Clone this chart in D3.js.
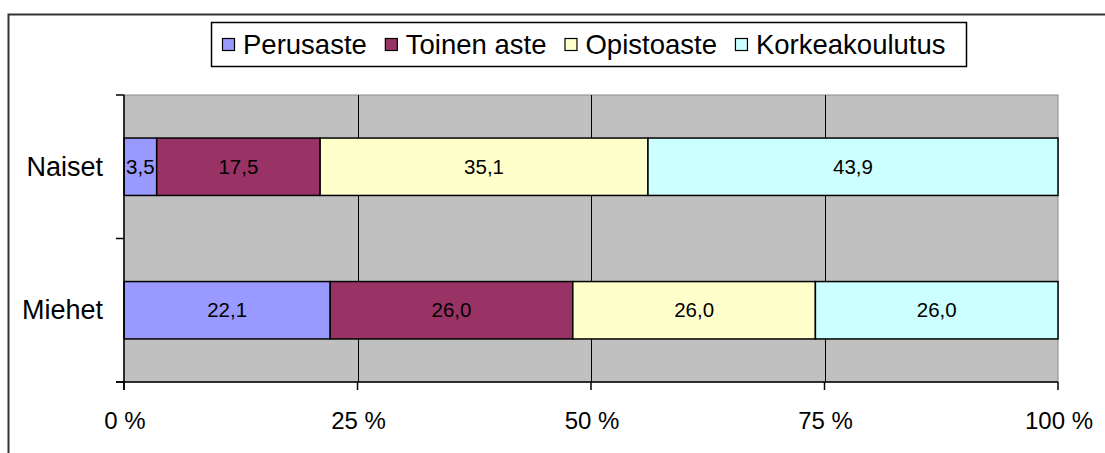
<!DOCTYPE html>
<html>
<head>
<meta charset="utf-8">
<script src="https://cdn.jsdelivr.net/npm/d3@7"></script>
<style>
    body { margin: 0; background: #fff; }
    text { font-family: "Liberation Sans", Arial, sans-serif; fill: #000; }
</style>
</head>
<body>
<div id="chart"></div>
<script>
// data
let categories = ["Naiset", "Miehet"];
let seriesNames = ["Perusaste", "Toinen aste", "Opistoaste", "Korkeakoulutus"];
let perusaste = [3.5, 22.1];
let toinenAste = [17.5, 26.0];
let opistoaste = [35.1, 26.0];
let korkeakoulutus = [43.9, 26.0];
let tickValues = [0, 0.25, 0.5, 0.75, 1];
let colors = ["#9999ff", "#993366", "#ffffcc", "#ccffff"];

let seriesValues = [perusaste, toinenAste, opistoaste, korkeakoulutus];
let rows = categories.map((c, i) => {
    let r = {category: c};
    seriesNames.forEach((s, j) => { r[s] = seriesValues[j][i]; });
    return r;
});

let width = 1105, height = 453;
let plot = {left: 124, right: 1058, top: 95, bottom: 382};

let svg = d3.select("#chart").append("svg")
    .attr("width", width)
    .attr("height", height);

// outer chart border (only top and left are in the frame)
svg.append("path")
    .attr("d", "M8.5," + height + " L8.5,14.5 L" + width + ",14.5")
    .attr("fill", "none")
    .attr("stroke", "#333")
    .attr("stroke-width", 2);

let xScale = d3.scaleLinear()
    .domain([0, 1])
    .range([plot.left, plot.right]);

let yScale = d3.scaleBand()
    .domain(categories)
    .range([plot.top, plot.bottom]);

let barHeight = yScale.bandwidth() / 2.5;

// plot area background
svg.append("rect")
    .attr("x", plot.left)
    .attr("y", plot.top)
    .attr("width", plot.right - plot.left)
    .attr("height", plot.bottom - plot.top)
    .attr("fill", "#c0c0c0")
    .attr("stroke", "#8a8a8a")
    .attr("stroke-width", 1);

// vertical gridlines
svg.selectAll(".grid")
    .data(tickValues.slice(1, -1))
    .enter().append("line")
    .attr("class", "grid")
    .attr("x1", d => Math.round(xScale(d)) + 0.5)
    .attr("x2", d => Math.round(xScale(d)) + 0.5)
    .attr("y1", plot.top)
    .attr("y2", plot.bottom)
    .attr("stroke", "#000")
    .attr("stroke-width", 1);

// stacked bars, 100 %
let stack = d3.stack()
    .keys(seriesNames)
    .offset(d3.stackOffsetExpand);
let stacked = stack(rows);

let fmt = v => d3.format(".1f")(v).replace(".", ",");

let layers = svg.selectAll(".layer")
    .data(stacked)
    .enter().append("g")
    .attr("class", "layer")
    .attr("fill", (d, i) => colors[i]);

layers.selectAll("rect")
    .data(d => d)
    .enter().append("rect")
    .attr("x", d => xScale(d[0]))
    .attr("y", d => yScale(d.data.category) + (yScale.bandwidth() - barHeight) / 2)
    .attr("width", d => xScale(d[1]) - xScale(d[0]))
    .attr("height", barHeight)
    .attr("stroke", "#000")
    .attr("stroke-width", 1.5);

layers.selectAll(".value")
    .data(d => d.map(p => ({p: p, key: d.key})))
    .enter().append("text")
    .attr("class", "value")
    .attr("text-anchor", "middle")
    .attr("x", d => (xScale(d.p[0]) + xScale(d.p[1])) / 2)
    .attr("y", d => yScale(d.p.data.category) + yScale.bandwidth() / 2 + 7)
    .style("font-size", "20.5px")
    .style("fill", "#000")
    .text(d => fmt(d.p.data[d.key]));

// axis lines
svg.append("line")
    .attr("x1", plot.left).attr("x2", plot.left)
    .attr("y1", plot.top).attr("y2", plot.bottom + 8)
    .attr("stroke", "#000").attr("stroke-width", 1.5);
svg.append("line")
    .attr("x1", plot.left - 8).attr("x2", plot.right)
    .attr("y1", plot.bottom).attr("y2", plot.bottom)
    .attr("stroke", "#000").attr("stroke-width", 1.5);

// y ticks at band edges
let yEdges = [plot.top].concat(categories.map(c => yScale(c) + yScale.bandwidth()));
svg.selectAll(".ytick")
    .data(yEdges)
    .enter().append("line")
    .attr("class", "ytick")
    .attr("x1", plot.left - 8)
    .attr("x2", plot.left)
    .attr("y1", d => d)
    .attr("y2", d => d)
    .attr("stroke", "#000")
    .attr("stroke-width", 1.5);

// category labels
svg.selectAll(".cat")
    .data(categories)
    .enter().append("text")
    .attr("class", "cat")
    .attr("text-anchor", "end")
    .attr("x", plot.left - 21)
    .attr("y", d => yScale(d) + yScale.bandwidth() / 2 + 9)
    .style("font-size", "27px")
    .text(d => d);

// x ticks and labels
svg.selectAll(".xtick")
    .data(tickValues)
    .enter().append("line")
    .attr("class", "xtick")
    .attr("x1", d => xScale(d))
    .attr("x2", d => xScale(d))
    .attr("y1", plot.bottom)
    .attr("y2", plot.bottom + 8)
    .attr("stroke", "#000")
    .attr("stroke-width", 1.5);

svg.selectAll(".xlabel")
    .data(tickValues)
    .enter().append("text")
    .attr("class", "xlabel")
    .attr("text-anchor", "middle")
    .attr("x", d => xScale(d) + 1)
    .attr("y", 429)
    .style("font-size", "24px")
    .text(d => Math.round(d * 100) + " %");

// legend
let legend = svg.append("g").attr("class", "legend");
legend.append("rect")
    .attr("class", "legend-box")
    .attr("x", 211.5)
    .attr("y", 22.5)
    .attr("width", 755)
    .attr("height", 44)
    .attr("fill", "#fff")
    .attr("stroke", "#000")
    .attr("stroke-width", 1.5);

let lx = 222;
seriesNames.forEach((s, i) => {
    legend.append("rect")
        .attr("x", lx + 0.5)
        .attr("y", 38.5)
        .attr("width", 12)
        .attr("height", 12)
        .attr("fill", colors[i])
        .attr("stroke", "#000")
        .attr("stroke-width", 1.2);
    let t = legend.append("text")
        .attr("x", lx + 21)
        .attr("y", 54)
        .style("font-size", "27.5px")
        .text(s);
    lx += 21 + t.node().getComputedTextLength() + 18;
});
</script>
</body>
</html>
